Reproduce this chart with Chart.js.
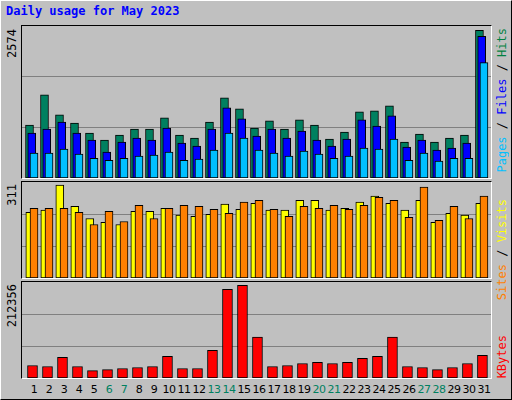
<!DOCTYPE html>
<html>
<head>
<meta charset="utf-8">
<script src="https://cdn.jsdelivr.net/npm/chart.js@4"></script>
<style>
  body { margin: 0; background: #c0c0c0; }
  #page { position: relative; width: 510px; height: 398px; border: 1px solid #000; border-top-color: #fff; border-left-color: #fff; background: #c0c0c0; overflow: hidden; font-family: "DejaVu Sans Mono", monospace; }
  .title { position: absolute; left: 5px; top: 3px; font-size: 12px; font-weight: bold; color: #0000ff; }
  .box { position: absolute; left: 20px; width: 469px; border: 1px solid #000; border-right-color: #fff; border-bottom-color: #fff; }
  .box canvas { display: block; }
  .vlab { position: absolute; font-size: 12px; writing-mode: vertical-rl; transform: rotate(180deg); white-space: nowrap; }
  .xl { position: absolute; top: 382px; width: 20px; margin-left: -10px; text-align: center; font-family: "DejaVu Sans", sans-serif; font-size: 11px; letter-spacing: -0.5px; color: #000; }
</style>
</head>
<body>
<div id="page">
  <div class="title">Daily usage for May 2023</div>

  <div class="box" style="top:24px;height:152px"><canvas id="c1" width="469" height="152"></canvas></div>
  <div class="box" style="top:180px;height:96px"><canvas id="c2" width="469" height="96"></canvas></div>
  <div class="box" style="top:280px;height:96px"><canvas id="c3" width="469" height="96"></canvas></div>

  <div class="vlab" style="left:4px;top:28px">2574</div>
  <div class="vlab" style="left:4px;top:183px">311</div>
  <div class="vlab" style="left:4px;top:283px">212356</div>

  <div class="vlab" style="left:494px;top:27px"><span style="color:#00c0ff">Pages</span><span style="color:#000"> / </span><span style="color:#0000ff">Files</span><span style="color:#000"> / </span><span style="color:#008040">Hits</span></div>
  <div class="vlab" style="left:494px;top:198px"><span style="color:#ff8000">Sites</span><span style="color:#000"> / </span><span style="color:#ffff00">Visits</span></div>
  <div class="vlab" style="left:494px;top:334px"><span style="color:#ff0000">KBytes</span></div>
  <div id="xlabels"></div>
</div>

<script>
// dữ liệu theo ngày
const days = [1,2,3,4,5,6,7,8,9,10,11,12,13,14,15,16,17,18,19,20,21,22,23,24,25,26,27,28,29,30,31];
const weekend = [6,7,13,14,20,21,27,28];
const hits  = [924,1451,1100,959,784,661,749,854,854,1047,749,696,977,1398,1205,872,995,854,1012,924,679,801,1152,1170,1258,626,766,626,696,749,2574];
const files = [784,854,977,784,661,450,626,696,661,872,608,556,854,1223,1030,731,854,696,819,661,556,679,1012,907,1082,538,661,486,521,608,2469];
const pages = [433,433,503,415,345,310,345,380,398,450,310,328,486,784,696,486,433,380,468,415,345,380,521,503,679,310,433,293,345,345,2012];
const sites  = [220,227,311,240,199,186,179,223,223,233,210,206,213,247,230,250,227,227,260,260,227,233,254,274,250,227,260,186,216,210,250];
const visits = [233,233,233,220,179,223,189,243,199,233,243,240,230,216,254,260,230,206,240,233,243,230,243,270,260,203,304,193,240,199,274];
const kbytes = [28675,26350,47275,26350,17050,19375,21700,24025,26350,49600,21700,21700,63550,203050,212356,93775,26350,28675,33325,35650,33325,35650,44950,49600,93775,26350,24025,19375,24025,33325,51925];

function ds(values, shift, color, width) {
    return {
        data: values.map((v, i) => ({ x: days[i] + shift, y: v })),
        backgroundColor: color,
        borderColor: '#000',
        borderWidth: 1,
        borderSkipped: false,
        barThickness: width,
        grouped: false
    };
}

function panel(id, datasets, max) {
    new Chart(document.getElementById(id), {
        type: 'bar',
        data: { datasets: datasets },
        options: {
            responsive: false,
            animation: false,
            layout: { padding: 0 },
            plugins: { legend: { display: false }, tooltip: { enabled: false } },
            scales: {
                x: { type: 'linear', min: 0.2, max: 31.47, offset: false, display: false },
                y: {
                    min: 0, max: max,
                    afterBuildTicks: ax => { ax.ticks = [{ value: max / 3 }, { value: max * 2 / 3 }]; },
                    ticks: { display: false },
                    border: { display: false },
                    grid: { color: '#808080', lineWidth: 1, drawTicks: false }
                }
            }
        },
        plugins: [{
            id: 'bg',
            beforeDraw: c => { c.ctx.fillStyle = '#c0c0c0'; c.ctx.fillRect(0, 0, c.width, c.height); }
        }]
    });
}

// dataset vẽ sau nằm trên: đảo thứ tự để hits ở dưới
panel('c1', [ds(pages, 0, '#00c0ff', 8), ds(files, -0.15, '#0000ff', 8), ds(hits, -0.3, '#008060', 8)].map((d, i) => ({ ...d, order: i })), 2650);
panel('c2', [ds(visits, 0, '#ff8000', 8), ds(sites, -0.28, '#ffff00', 8)].map((d, i) => ({ ...d, order: i })), 321);
panel('c3', [ds(kbytes, -0.1, '#ff0000', 10)], 220000);

// nhãn ngày
const xl = document.getElementById('xlabels');
days.forEach(d => {
    const s = document.createElement('div');
    s.className = 'xl';
    s.style.left = (33 + 15 * (d - 1)) + 'px';
    s.style.color = weekend.includes(d) ? '#008060' : '#000';
    s.textContent = d;
    xl.appendChild(s);
});
</script>
</body>
</html>
